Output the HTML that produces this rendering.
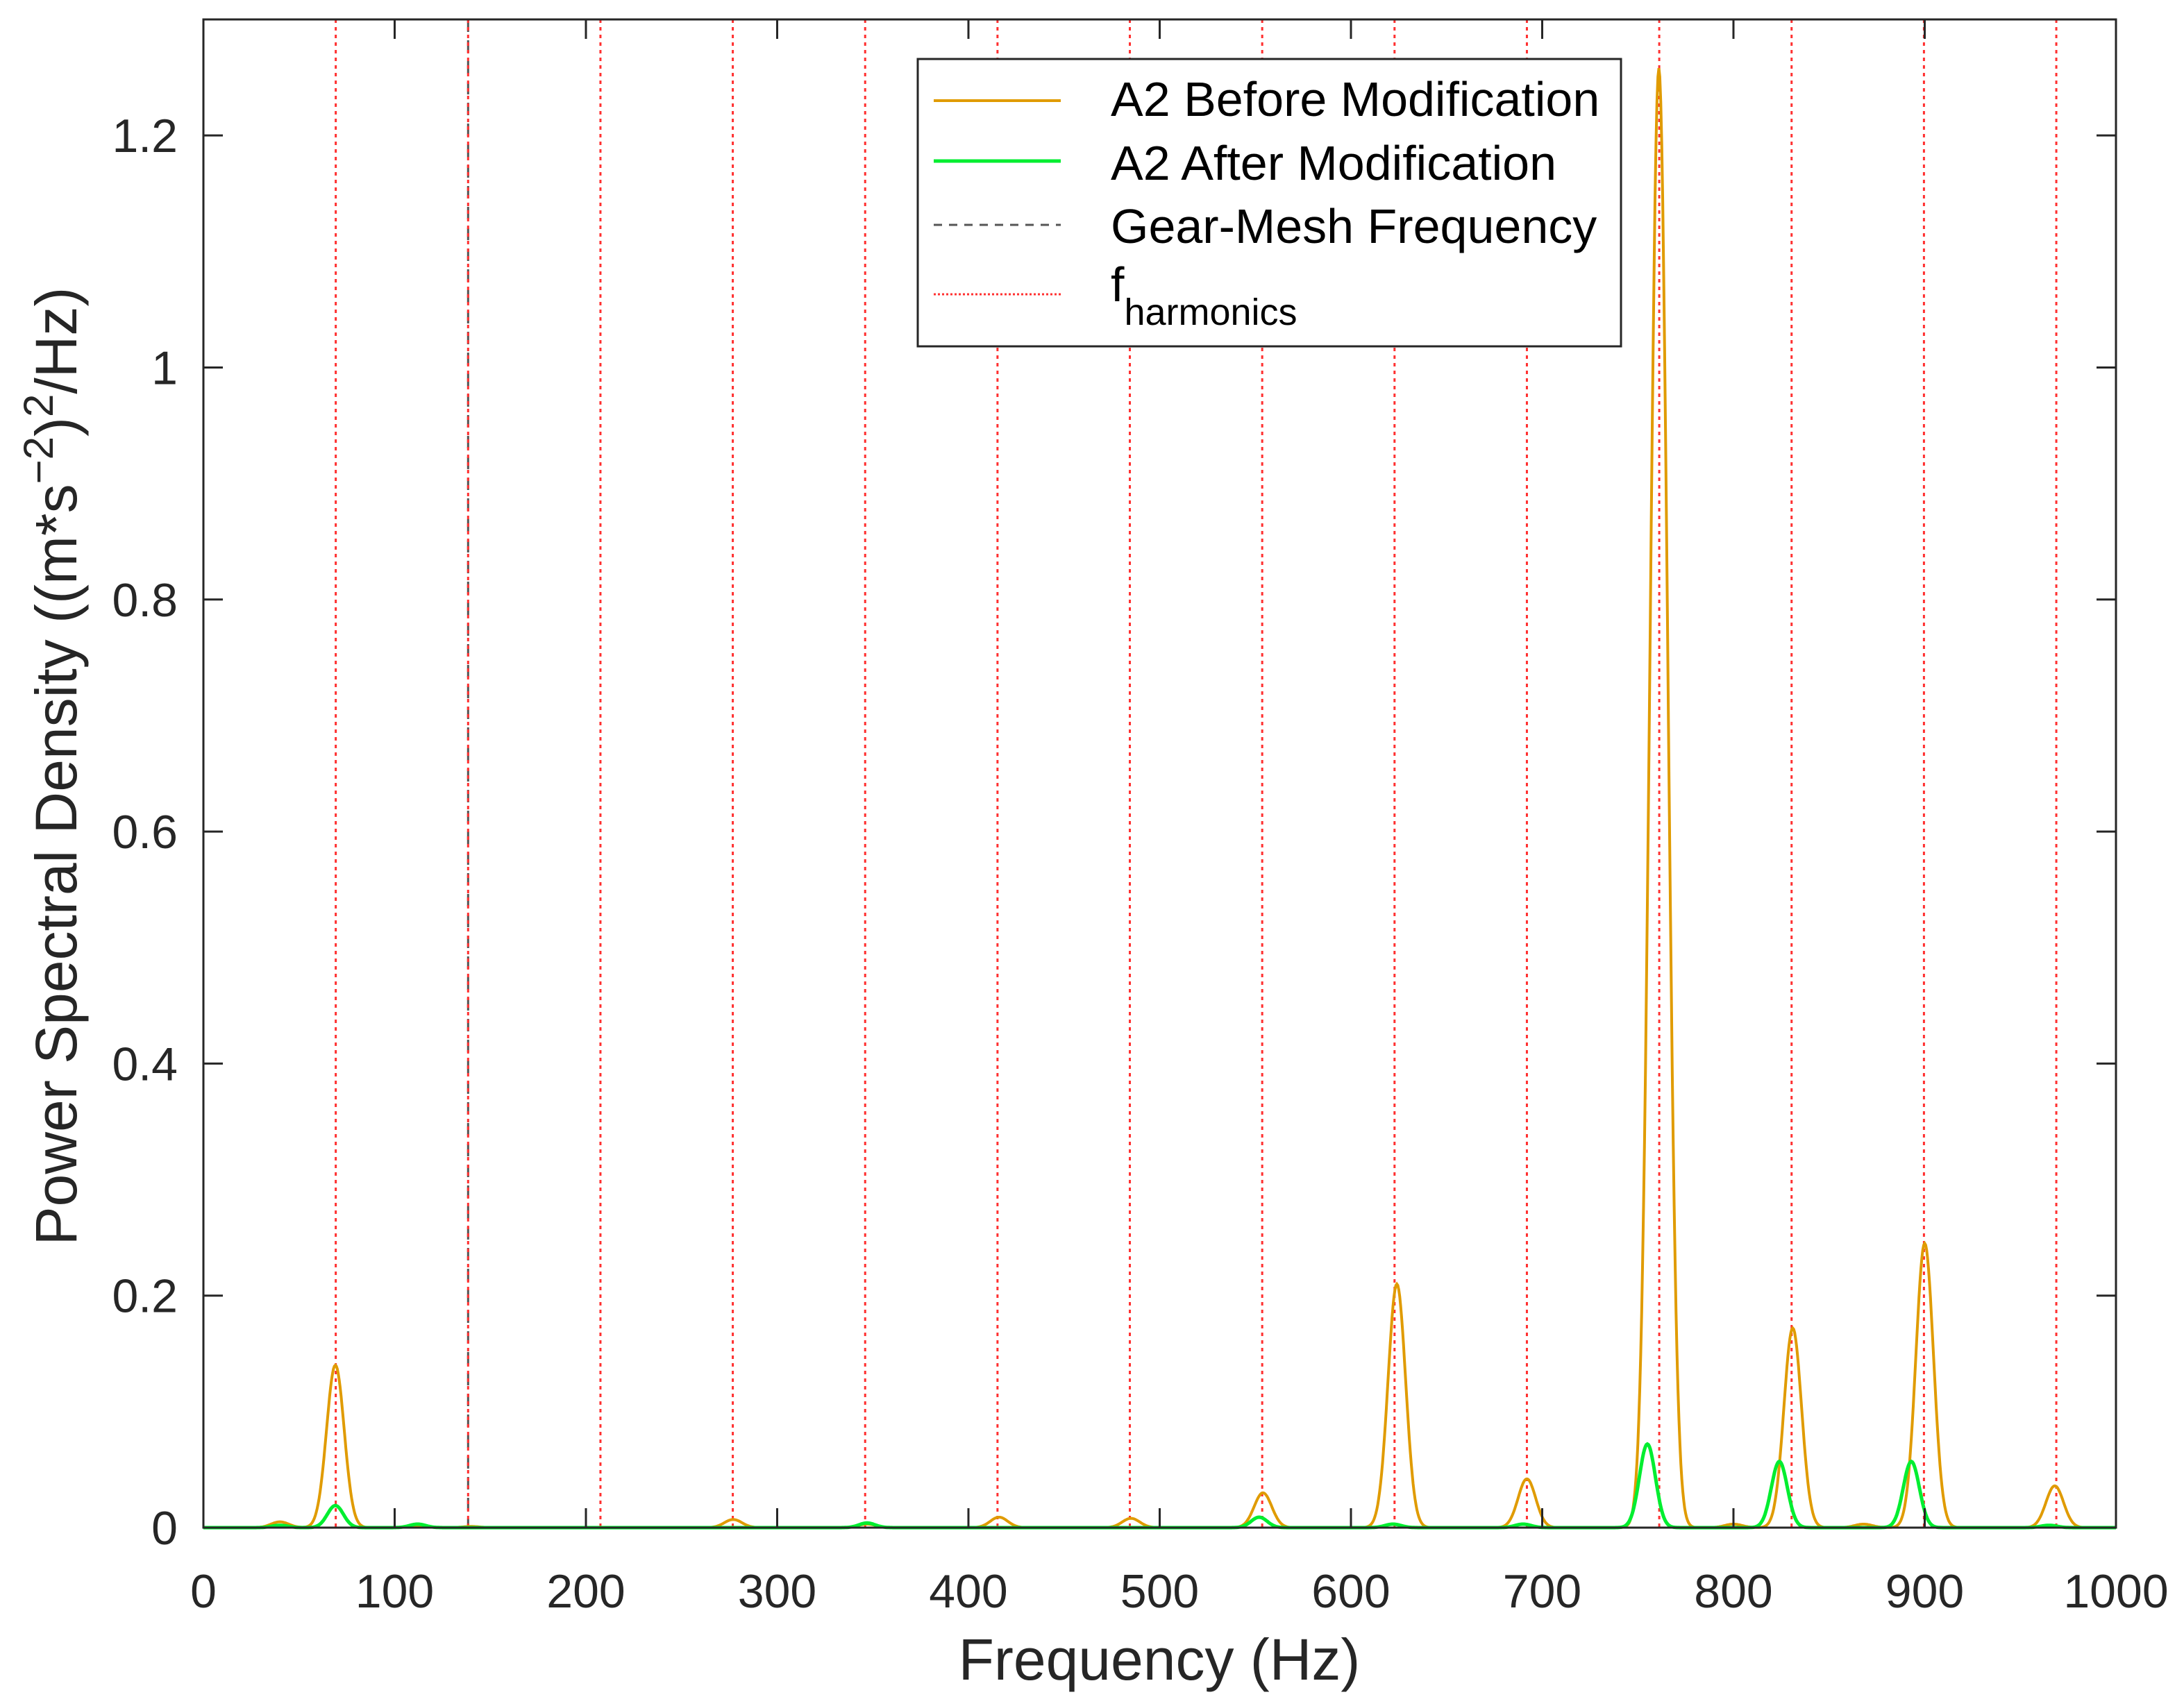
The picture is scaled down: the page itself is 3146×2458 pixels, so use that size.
<!DOCTYPE html>
<html><head><meta charset="utf-8"><style>
html,body{margin:0;padding:0;background:#fff;}
body{position:relative;width:3146px;height:2458px;overflow:hidden;}
svg{display:block;font-family:"Liberation Sans",Arial,sans-serif;}
</style></head><body>
<svg id="chart" width="3146" height="2458" viewBox="0 0 3146 2458">
<rect x="0" y="0" width="3146" height="2458" fill="#fff"/>
<g id="grid"></g>
<g id="series"></g>
<g id="axes"></g>
</svg>
<script>
const xTicks=[0,100,200,300,400,500,600,700,800,900,1000];
const yTicks=[0,0.2,0.4,0.6,0.8,1,1.2];
const yTickLabels=["0","0.2","0.4","0.6","0.8","1","1.2"];
const harmonicFreqs=[0,69.2,138.4,207.6,276.8,346,415.2,484.4,553.6,622.8,692,761.2,830.4,899.6,968.8];
const gearMeshFreq=[138.4];
const beforePeakFreqs=[40,69,112,140,277,347,416,485,554,624,692,761,800,831,868,900,968];
const beforePeakVals=[0.005,0.14,0.002,0.001,0.007,0.003,0.009,0.008,0.03,0.21,0.042,1.258,0.003,0.172,0.003,0.245,0.036];
const afterPeakFreqs=[40,69,112,347,552,622,690,755,824,893,965];
const afterPeakVals=[0.002,0.019,0.003,0.004,0.009,0.003,0.003,0.072,0.057,0.057,0.002];

const L=293,R=3048,T=28,B=2201,XMAX=1000,YMAX=1.3;
const sx=v=>L+(v/XMAX)*(R-L);
const sy=v=>B-(v/YMAX)*(B-T);
const NS="http://www.w3.org/2000/svg";
function mk(tag,parent,attrs){const e=document.createElementNS(NS,tag);for(const k in attrs)e.setAttribute(k,attrs[k]);parent.appendChild(e);return e;}
const grid=document.getElementById('grid'),series=document.getElementById('series'),axes=document.getElementById('axes');

gearMeshFreq.forEach(f=>{
 const l=mk('line',grid,{x1:sx(f),x2:sx(f),y1:T,y2:B,stroke:'#555','stroke-width':3,'stroke-dasharray':'18 12'});
 
 
});
harmonicFreqs.forEach(f=>{
 const l=mk('line',grid,{x1:sx(f),x2:sx(f),y1:T,y2:B,stroke:'#ff3030','stroke-width':3,'stroke-dasharray':'5 6'});
 
 
});

function curve(freqs,vals,sig){
 let d='';
 for(let f=0;f<=1000;f+=0.5){
  let v=0;
  for(let i=0;i<freqs.length;i++){const z=(f-freqs[i])/sig;v+=vals[i]*Math.exp(-0.5*z*z);}
  d+=(f===0?'M':'L')+sx(f).toFixed(1)+','+sy(v).toFixed(1);
 }
 return d;
}
const pb=mk('path',series,{d:curve(beforePeakFreqs,beforePeakVals,4.6),fill:'none',stroke:'#e09b00','stroke-width':4});


const pa=mk('path',series,{d:curve(afterPeakFreqs,afterPeakVals,4.2),fill:'none',stroke:'#00ee30','stroke-width':5});



const box=mk('rect',axes,{x:L,y:T,width:R-L,height:B-T,fill:'none',stroke:'#262626','stroke-width':3});


xTicks.forEach(t=>{
 mk('line',axes,{x1:sx(t),x2:sx(t),y1:B,y2:B-28,stroke:'#262626','stroke-width':3});
 mk('line',axes,{x1:sx(t),x2:sx(t),y1:T,y2:T+28,stroke:'#262626','stroke-width':3});
 const tx=mk('text',axes,{x:sx(t),y:2316,'font-size':68,'text-anchor':'middle',fill:'#262626'});
 tx.textContent=t;
 
 
});
yTicks.forEach((t,i)=>{
 mk('line',axes,{x1:L,x2:L+28,y1:sy(t),y2:sy(t),stroke:'#262626','stroke-width':3});
 mk('line',axes,{x1:R,x2:R-28,y1:sy(t),y2:sy(t),stroke:'#262626','stroke-width':3});
 const tx=mk('text',axes,{x:256,y:sy(t)+24,'font-size':68,'text-anchor':'end',fill:'#262626'});
 tx.textContent=yTickLabels[i];
 
 
});
</script>
<svg style="position:absolute;left:0;top:0" width="3146" height="2458">
<text x="1670" y="2420" font-size="84" text-anchor="middle" fill="#262626" font-family="Liberation Sans, sans-serif">Frequency (Hz)</text>
<text transform="translate(110,1104) rotate(-90)" font-size="84" text-anchor="middle" fill="#262626" font-family="Liberation Sans, sans-serif">Power Spectral Density ((m*s<tspan dy="-34" font-size="60">−2</tspan><tspan dy="34">)</tspan><tspan dy="-34" font-size="60">2</tspan><tspan dy="34">/Hz)</tspan></text>
<g font-family="Liberation Sans, sans-serif">
<rect x="1322" y="85" width="1013" height="414" fill="#fff" stroke="#262626" stroke-width="3"/>
<line x1="1345" y1="145" x2="1528" y2="145" stroke="#e09b00" stroke-width="4"/>
<text x="1600" y="167" font-size="70" fill="#000">A2 Before Modification</text>
<line x1="1345" y1="232" x2="1528" y2="232" stroke="#00ee30" stroke-width="5"/>
<text x="1600" y="259" font-size="70" fill="#000">A2 After Modification</text>
<line x1="1345" y1="324" x2="1528" y2="324" stroke="#555" stroke-width="3" stroke-dasharray="12 10"/>
<text x="1600" y="350" font-size="70" fill="#000">Gear-Mesh Frequency</text>
<line x1="1345" y1="424" x2="1528" y2="424" stroke="#ff3030" stroke-width="3" stroke-dasharray="3 3"/>
<text x="1600" y="434" font-size="70" fill="#000">f<tspan dy="34" font-size="54">harmonics</tspan></text>
</g>
</svg>
</body></html>
